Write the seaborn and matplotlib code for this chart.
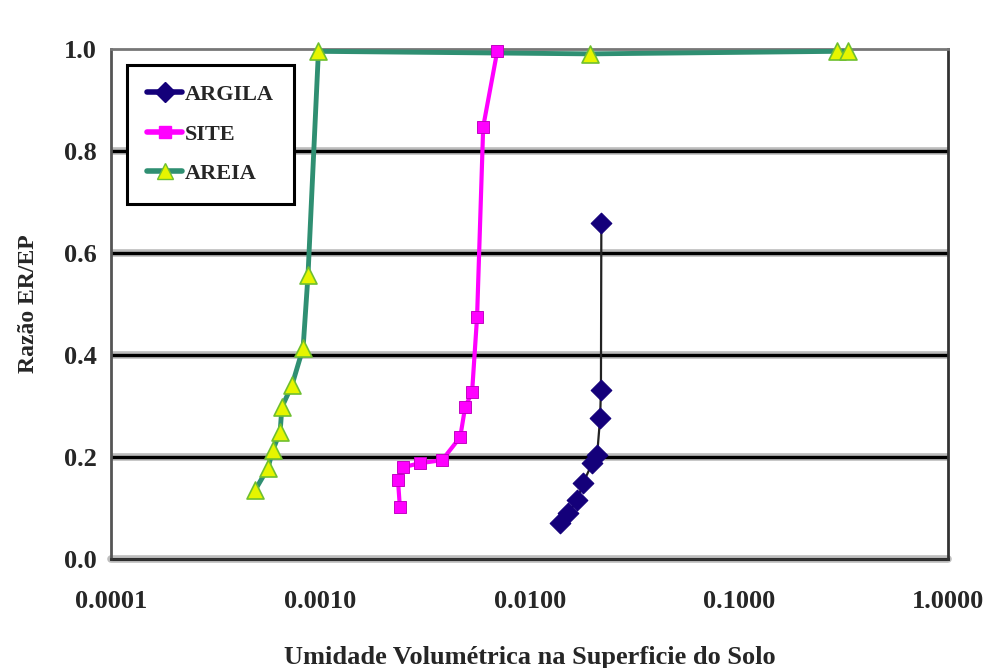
import matplotlib
matplotlib.use("Agg")
import matplotlib.pyplot as plt
import seaborn as sns
import pandas as pd
from matplotlib.lines import Line2D

# ---- data ----
argila_x = [0.0140, 0.0153, 0.0169, 0.0180, 0.0199, 0.0210, 0.0217, 0.0219, 0.0220]
argila_y = [0.071, 0.090, 0.116, 0.149, 0.188, 0.204, 0.276, 0.331, 0.659]

site_x = [0.00240, 0.00235, 0.00248, 0.00300, 0.00382, 0.00466, 0.00492, 0.00531, 0.00561, 0.00600, 0.00700]
site_y = [0.102, 0.155, 0.180, 0.188, 0.194, 0.239, 0.298, 0.327, 0.475, 0.847, 0.995]

areia_x = [0.000488, 0.000562, 0.000594, 0.000643, 0.000656, 0.000733, 0.000828, 0.000874, 0.00098, 0.0195, 0.295, 0.333]
areia_y = [0.135, 0.178, 0.214, 0.249, 0.298, 0.341, 0.414, 0.557, 0.995, 0.99, 0.995, 0.995]

series_names = ["ARGILA", "SITE", "AREIA"]
x_ticks = [0.0001, 0.001, 0.01, 0.1, 1.0]
x_tick_labels = ["0.0001", "0.0010", "0.0100", "0.1000", "1.0000"]
y_ticks = [0.0, 0.2, 0.4, 0.6, 0.8, 1.0]
y_tick_labels = ["0.0", "0.2", "0.4", "0.6", "0.8", "1.0"]
x_label = "Umidade Volumétrica na Superficie do Solo"
y_label = "Razão ER/EP"

sns.set_style("white")
plt.rcParams["font.family"] = ["Liberation Serif", "DejaVu Serif"]
plt.rcParams["font.weight"] = "bold"

fig = plt.figure(figsize=(9.9, 6.68), dpi=100)
ax = fig.add_axes([0.112, 0.163, 0.846, 0.764])

df_a = pd.DataFrame({"x": argila_x, "y": argila_y})
df_s = pd.DataFrame({"x": site_x, "y": site_y})
df_r = pd.DataFrame({"x": areia_x, "y": areia_y})

c_argila = "#14007a"
c_site = "#ff00ff"
c_areia_line = "#2f8f72"
c_areia_mk = "#e6f500"

# gridlines with a gray halo
for yv in y_ticks[1:-1]:
    ax.axhline(yv, color="#bdbdbd", lw=5.5, zorder=1)
    ax.axhline(yv, color="black", lw=2.4, zorder=1.5)
ax.axhline(0.0, color="#bdbdbd", lw=5.5, zorder=1, clip_on=False)
ax.axhline(0.0, color="black", lw=2.2, zorder=1.5, clip_on=False)

# ARGILA
sns.lineplot(data=df_a, x="x", y="y", sort=False, estimator=None, color="#222222",
             lw=1.6, ax=ax, zorder=3)
sns.scatterplot(data=df_a, x="x", y="y", marker="D", s=110, color=c_argila,
                edgecolor=c_argila, ax=ax, zorder=4, clip_on=False)
# SITE
sns.lineplot(data=df_s, x="x", y="y", sort=False, estimator=None, color=c_site,
             lw=3, ax=ax, zorder=3)
sns.scatterplot(data=df_s, x="x", y="y", marker="s", s=70, color=c_site,
                edgecolor="#c000c0", ax=ax, zorder=4, clip_on=False)
# AREIA
sns.lineplot(data=df_r, x="x", y="y", sort=False, estimator=None, color=c_areia_line,
             lw=3.5, ax=ax, zorder=3)
sns.scatterplot(data=df_r, x="x", y="y", marker="^", s=150, color=c_areia_mk,
                edgecolor="#6fbf30", linewidth=1.2, ax=ax, zorder=4, clip_on=False)

ax.set_xscale("log")
ax.set_xlim(0.0001, 1.0)
ax.set_ylim(0.0, 1.0)
ax.set_xticks(x_ticks)
ax.set_xticklabels(x_tick_labels)
ax.set_yticks(y_ticks)
ax.set_yticklabels(y_tick_labels)
ax.minorticks_off()
ax.tick_params(axis="x", which="major", direction="out", length=8, width=1.5,
               labelsize=19, pad=14, color="#444444")
ax.tick_params(axis="y", which="major", direction="out", length=6, width=1.5,
               labelsize=19, pad=4, color="#444444")
for lab in ax.get_xticklabels() + ax.get_yticklabels():
    lab.set_fontweight("bold")

for side in ["left", "right", "top", "bottom"]:
    ax.spines[side].set_visible(True)
    ax.spines[side].set_color("#333333")
    ax.spines[side].set_linewidth(2.0)
ax.spines["top"].set_color("#777777")
ax.spines["left"].set_color("#555555")

ax.set_xlabel(x_label, fontsize=19, fontweight="bold", labelpad=24)
ax.set_ylabel(y_label, fontsize=17, fontweight="bold", labelpad=18)

handles = [
    Line2D([0], [0], color=c_argila, lw=4, marker="D", markersize=10,
           markerfacecolor=c_argila, markeredgecolor=c_argila),
    Line2D([0], [0], color=c_site, lw=4, marker="s", markersize=8,
           markerfacecolor=c_site, markeredgecolor=c_site),
    Line2D([0], [0], color=c_areia_line, lw=4, marker="^", markersize=11,
           markerfacecolor=c_areia_mk, markeredgecolor="#6fbf30"),
]
leg = ax.legend(handles, series_names, loc="upper left", bbox_to_anchor=(0.019, 0.969),
                borderaxespad=0, frameon=True, fancybox=False, handlelength=1.6,
                handletextpad=0.1, labelspacing=0.85, borderpad=0.9,
                prop={"family": ["Liberation Serif"], "weight": "bold", "size": 16})
leg.get_frame().set_edgecolor("black")
leg.get_frame().set_linewidth(2.2)
leg.get_frame().set_facecolor("white")
leg.get_frame().set_alpha(1)
leg.set_zorder(6)

fig.savefig("out.png", dpi=100)
